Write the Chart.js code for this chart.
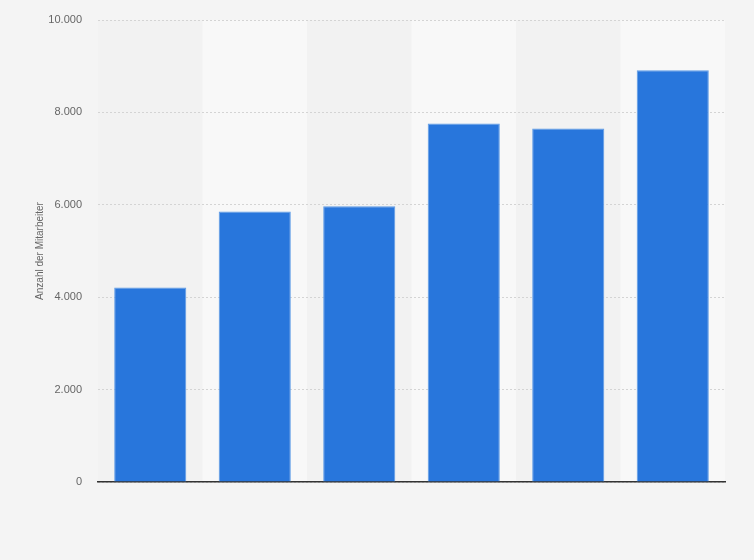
<!DOCTYPE html>
<html>
<head>
<meta charset="utf-8">
<script src="https://cdn.jsdelivr.net/npm/chart.js@4/dist/chart.umd.min.js"></script>
<style>
  html, body { margin: 0; padding: 0; background: #f4f4f4; }
  #wrap { width: 754px; height: 560px; }
</style>
</head>
<body>
<div id="wrap"><canvas id="chart" width="754" height="560"></canvas></div>
<script>
// categories are not printed in the picture, kept only to index the bars
const categories = ["2013", "2014", "2015", "2016", "2017", "2018"];
const employees = [4208, 5855, 5970, 7760, 7653, 8910];
const yTicks = [0, 2000, 4000, 6000, 8000, 10000];
const yTitle = "Anzahl der Mitarbeiter";

function fmt(v){
  return String(v).replace(/\B(?=(\d{3})+(?!\d))/g, ".");
}

/* background + alternating column bands */
const bands = {
  id: "bands",
  beforeDraw(c){
    const ctx = c.ctx, a = c.chartArea, x = c.scales.x;
    ctx.save();
    ctx.fillStyle = "#f4f4f4";
    ctx.fillRect(0, 0, c.width, c.height);
    const w = (a.right - a.left) / categories.length;
    categories.forEach((cat, i) => {
      const cx = x.getPixelForValue(i);
      ctx.fillStyle = i % 2 ? "#f8f8f8" : "#f2f2f2";
      ctx.fillRect(cx - w / 2, a.top, w, a.bottom - a.top);
    });
    ctx.restore();
  }
};

new Chart(document.getElementById("chart"), {
  type: "bar",
  data: {
    labels: categories,
    datasets: [{
      data: employees,
      backgroundColor: "#2876dc",
      borderColor: "#5d9be6",
      borderWidth: 1,
      borderSkipped: "bottom",
      barPercentage: 0.69,
      categoryPercentage: 1
    }]
  },
  options: {
    responsive: false,
    animation: false,
    devicePixelRatio: 1,
    layout: { padding: { top: 20, right: 29, bottom: 78, left: 0 } },
    plugins: { legend: { display: false }, tooltip: { enabled: false } },
    scales: {
      x: {
        grid: { display: false },
        ticks: { display: false },
        border: { display: true, color: "#333333", width: 1.5 },
        afterFit(s){ s.height = 0; }
      },
      y: {
        min: 0,
        max: 10000,
        afterBuildTicks(s){ s.ticks = yTicks.map(v => ({ value: v })); },
        afterFit(s){ s.width = 98; s.paddingTop = 0; },
        grid: { color: "#d4d4d4", lineWidth: 1, drawTicks: false },
        border: { display: false, dash: [2, 2] },
        ticks: {
          padding: 16,
          color: "#666666",
          font: { family: "Arial, 'Liberation Sans', sans-serif", size: 11 },
          callback: v => fmt(v)
        },
        title: {
          display: true,
          text: yTitle,
          color: "#666666",
          padding: { top: 34, bottom: 0 },
          font: { family: "Arial, 'Liberation Sans', sans-serif", size: 10 }
        }
      }
    }
  },
  plugins: [bands, {
    id: "probe",
    afterLayout(c){ document.title = JSON.stringify(c.chartArea); }
  }]
});
</script>
</body>
</html>
